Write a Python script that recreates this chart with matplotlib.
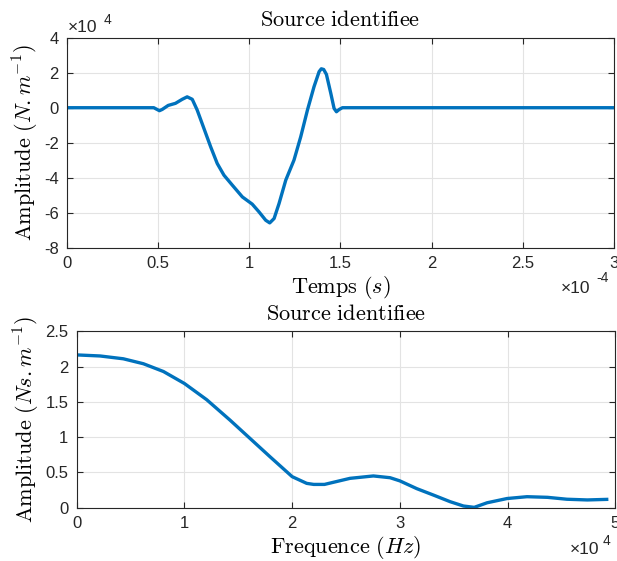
import matplotlib
matplotlib.use("Agg")
import matplotlib.pyplot as plt
from matplotlib.ticker import FuncFormatter
import numpy as np

plt.rcParams['mathtext.fontset'] = 'cm'

# ---- data (values as read; time in units of 1e-4 s, amplitude in 1e4 N/m) ----
t_scale = 1e-4
a_scale = 1e4
time_vals = [0.0, 0.476, 0.507, 0.522, 0.555, 0.595, 0.632, 0.659, 0.687, 0.714,
             0.751, 0.788, 0.824, 0.861, 0.907, 0.962, 1.016, 1.053, 1.090, 1.112,
             1.136, 1.163, 1.200, 1.245, 1.282, 1.319, 1.355, 1.383, 1.395, 1.408,
             1.423, 1.447, 1.465, 1.478, 1.493, 1.511, 3.0]
amp_vals = [0.0, 0.0, -0.17, -0.10, 0.13, 0.25, 0.48, 0.62, 0.48, -0.13,
            -1.18, -2.23, -3.18, -3.85, -4.42, -5.09, -5.50, -5.94, -6.42, -6.57,
            -6.32, -5.47, -4.13, -2.99, -1.66, -0.13, 1.20, 2.06, 2.22, 2.18,
            1.90, 0.82, -0.04, -0.23, -0.10, 0.0, 0.0]

f_scale = 1e4
freq_vals = [0.0, 0.217, 0.433, 0.619, 0.805, 1.0, 1.207, 1.424, 1.61, 1.796,
             2.0, 2.135, 2.2, 2.3, 2.537, 2.754, 2.909, 3.0, 3.157, 3.31,
             3.467, 3.59, 3.69, 3.81, 3.995, 4.18, 4.37, 4.55, 4.74, 4.92]
spec_vals = [2.165, 2.15, 2.11, 2.04, 1.93, 1.76, 1.53, 1.24, 0.98, 0.72,
             0.44, 0.345, 0.33, 0.33, 0.416, 0.45, 0.425, 0.38, 0.27, 0.18,
             0.085, 0.024, 0.005, 0.07, 0.13, 0.156, 0.147, 0.12, 0.11, 0.118]

top_xticks = [0, 0.5, 1, 1.5, 2, 2.5, 3]
top_yticks = [-8, -6, -4, -2, 0, 2, 4]
bot_xticks = [0, 1, 2, 3, 4, 5]
bot_yticks = [0, 0.5, 1, 1.5, 2, 2.5]

line_color = '#0072BD'
axc = '#262626'
tick_font = 'Liberation Sans'
W, H = 617, 561

fig = plt.figure(figsize=(6.17, 5.61), dpi=100)
ax1 = fig.add_axes([0.1086, 0.558, 0.8864, 0.375])
ax2 = fig.add_axes([0.1243, 0.095, 0.873, 0.3145])

def style(ax):
    ax.tick_params(direction='in', top=True, right=True, length=4, width=0.8,
                   colors=axc, labelsize=12, pad=6)
    for lab in ax.get_xticklabels() + ax.get_yticklabels():
        lab.set_fontfamily(tick_font)
    for s in ax.spines.values():
        s.set_color(axc)
        s.set_linewidth(0.8)
    ax.grid(True, color='#e3e3e3', linewidth=0.8)
    ax.set_axisbelow(True)

def fmt(scale):
    def f(v, pos):
        x = round(v / scale, 6)
        if abs(x - round(x)) < 1e-9:
            return "%d" % round(x)
        return "%g" % x
    return FuncFormatter(f)

def exp_label(x_base, y_base, x_sup, y_sup, sup):
    fig.text(x_base / W, 1 - y_base / H, "\u00d710", fontsize=12.5, color=axc,
             family=tick_font, ha='left', va='center')
    fig.text(x_sup / W, 1 - y_sup / H, sup, fontsize=10, color=axc,
             family=tick_font, ha='left', va='center')

lab_fs = 16

# top
ax1.plot(np.array(time_vals) * t_scale, np.array(amp_vals) * a_scale,
         color=line_color, linewidth=2.4)
ax1.set_xlim(0, 3 * t_scale)
ax1.set_ylim(-8 * a_scale, 4 * a_scale)
ax1.set_xticks(np.array(top_xticks) * t_scale)
ax1.set_yticks(np.array(top_yticks) * a_scale)
ax1.xaxis.set_major_formatter(fmt(t_scale))
ax1.yaxis.set_major_formatter(fmt(a_scale))
style(ax1)
ax1.set_title(r"$\mathrm{Source\ identifiee}$", fontsize=lab_fs, pad=8, color='black')
ax1.set_xlabel(r"$\mathrm{Temps}\ (s)$", fontsize=lab_fs, labelpad=2)
ax1.set_ylabel(r"$\mathrm{Amplitude}\ (N.m^{-1})$", fontsize=lab_fs, labelpad=2)
exp_label(68, 28, 104, 20, "4")
exp_label(561, 288, 596, 278, "-4")

# bottom
ax2.plot(np.array(freq_vals) * f_scale, spec_vals, color=line_color, linewidth=2.4)
ax2.set_xlim(0, 5 * f_scale)
ax2.set_ylim(0, 2.5)
ax2.set_xticks(np.array(bot_xticks) * f_scale)
ax2.set_yticks(bot_yticks)
ax2.xaxis.set_major_formatter(fmt(f_scale))
ax2.yaxis.set_major_formatter(FuncFormatter(lambda v, p: "%g" % v))
style(ax2)
ax2.set_title(r"$\mathrm{Source\ identifiee}$", fontsize=lab_fs, pad=8, color='black')
ax2.set_xlabel(r"$\mathrm{Frequence}\ (Hz)$", fontsize=lab_fs, labelpad=2)
ax2.set_ylabel(r"$\mathrm{Amplitude}\ (Ns.m^{-1})$", fontsize=lab_fs, labelpad=2)
exp_label(570, 550, 603, 541, "4")

fig.savefig("out.png", dpi=100)
